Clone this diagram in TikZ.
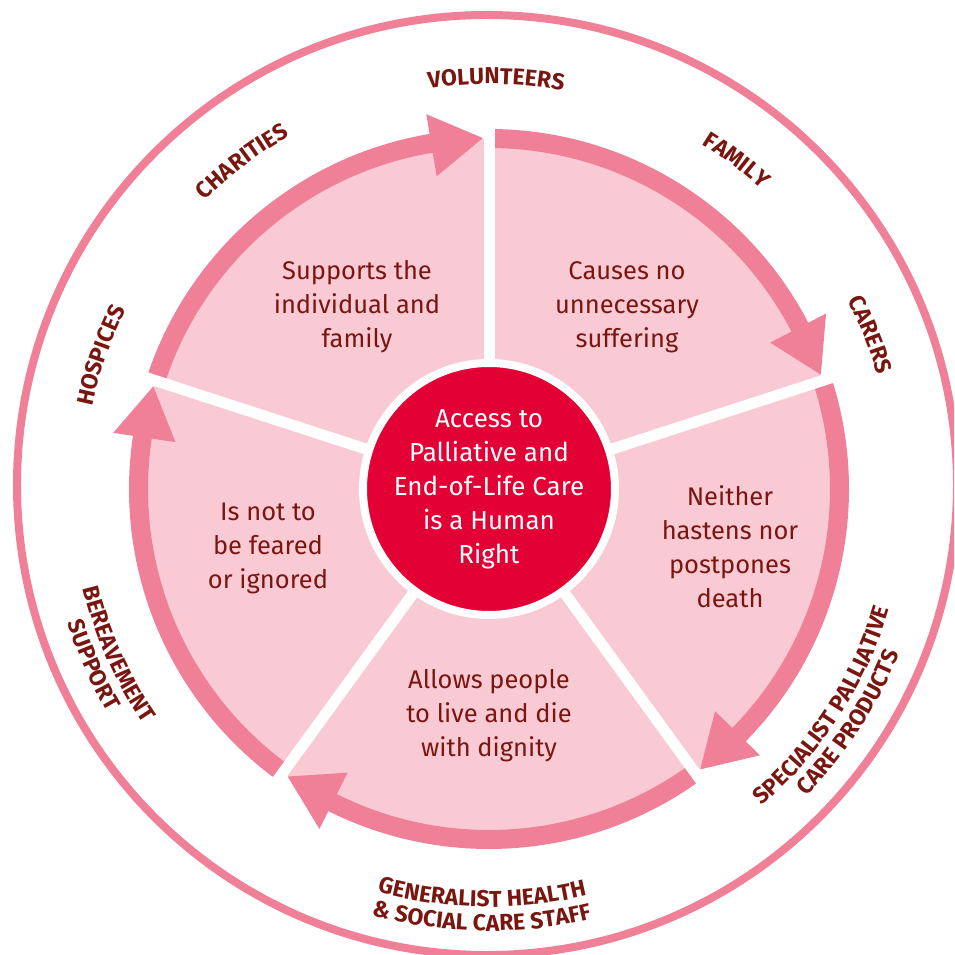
\documentclass[tikz,border=0pt]{standalone}
\usepackage{fontspec}
\setmainfont{Fira Sans}
\usetikzlibrary{decorations.text}
\definecolor{ringpink}{RGB}{240,128,152}
\definecolor{wedgepink}{RGB}{249,202,212}
\definecolor{hubred}{RGB}{227,0,52}
\definecolor{textred}{RGB}{122,22,16}
\newcommand{\labelfont}{\fontsize{23}{23}\selectfont\bfseries\color{textred}}
% text round the ring: clockwise on top, anticlockwise below
\newcommand{\toplabel}[3]{\path [decorate,decoration={text along path,text align=center,
    text={|\labelfont|#3}}] (#1+40:#2) arc [start angle=#1+40,end angle=#1-40,radius=#2];}
\newcommand{\bottomlabel}[3]{\path [decorate,decoration={text along path,text align=center,
    text={|\labelfont|#3}}] (#1-40:#2) arc [start angle=#1-40,end angle=#1+40,radius=#2];}

\begin{document}
\begin{tikzpicture}[x=1pt,y=1pt,
		wedgetext/.style={align=center,text=textred,font=\fontsize{25.5}{34}\selectfont},
		hubtext/.style={circle,fill=hubred,draw=white,line width=8,minimum size=252,inner sep=0,
			align=center,text=white,font=\fontsize{26}{34}\selectfont}]
		\clip (-489,-466) rectangle (465,489);
		\draw [ringpink,line width=8] (-2,4) circle [radius=470];
		%
		\fill [wedgepink] (0,0) circle [radius=350];
		\foreach \s in {162,90,18,-54,-126} {
			\pgfmathsetmacro{\backang}{\s-72+9.5}
			\pgfmathsetmacro{\tipang}{\s-72+1}
			\fill [ringpink] (\s:360) arc [start angle=\s,end angle=\backang,radius=360]
				-- (\backang:380) -- (\tipang:351) -- (\backang:317) -- (\backang:341)
				arc [start angle=\backang,end angle=\s,radius=341] -- cycle;
		}
		\foreach \a in {162,90,18,-54,-126}
			\draw [white,line width=11] (0,0) -- (\a:372);
		%
		\node [hubtext] (hub) at (0,0) {Access to\\Palliative and\\End-of-Life Care\\is a Human\\Right};
		\node [wedgetext] (support) at (-132,182) {Supports the\\individual and\\family};
		\node [wedgetext] (suffering) at (138,182) {Causes no\\unnecessary\\suffering};
		\node [wedgetext] (death) at (241,-58) {Neither\\hastens nor\\postpones\\death};
		\node [wedgetext] (dignity) at (0,-227) {Allows people\\to live and die\\with dignity};
		\node [wedgetext] (feared) at (-221,-59) {Is not to\\be feared\\or ignored};
		%
		\toplabel{89}{405}{VOLUNTEERS}
		\toplabel{127}{405}{CHARITIES}
		\toplabel{53}{405}{FAMILY}
		\toplabel{22}{405}{CARERS}
		\toplabel{161}{405}{HOSPICES}
		\bottomlabel{-91}{418}{GENERALIST HEALTH}
		\bottomlabel{-91}{442}{{\&} SOCIAL CARE STAFF}
		\bottomlabel{-33}{418}{SPECIALIST PALLIATIVE}
		\bottomlabel{-33}{442}{CARE PRODUCTS}
		\bottomlabel{204}{418}{BEREAVEMENT}
		\bottomlabel{204}{442}{SUPPORT}
	\end{tikzpicture}
\end{document}
